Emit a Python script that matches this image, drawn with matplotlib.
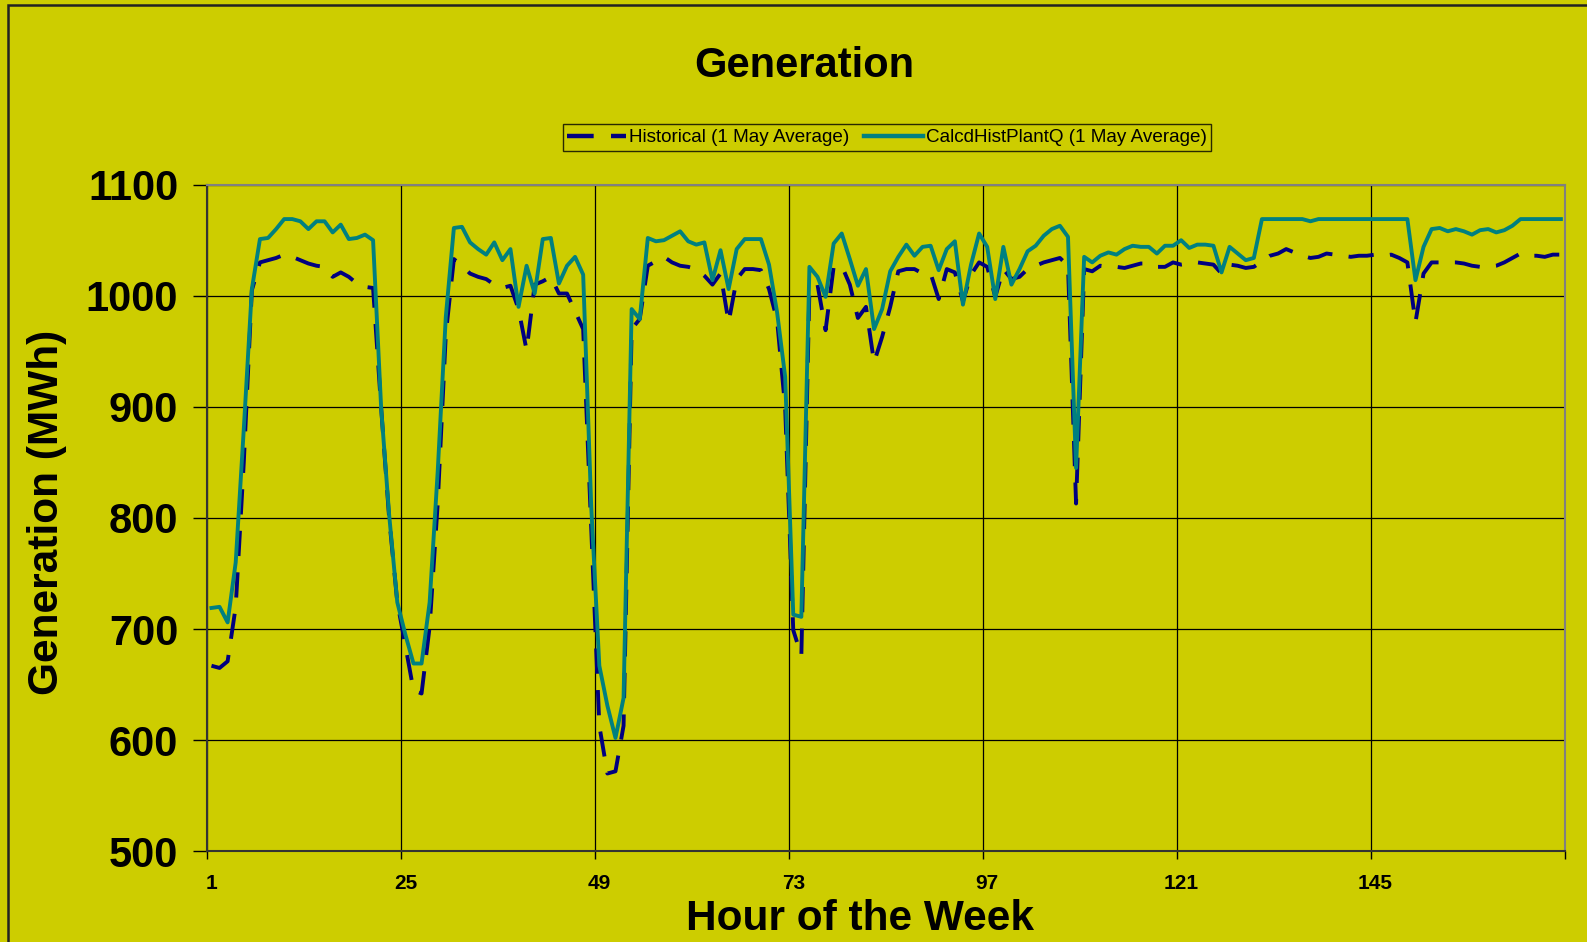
import matplotlib
matplotlib.use("Agg")
import matplotlib.pyplot as plt
from matplotlib.lines import Line2D
from matplotlib.patches import Rectangle

hours = list(range(1, 169))

historical = [
    667, 665, 671, 720, 850, 1005, 1030, 1032, 1034, 1037, 1035, 1032,
    1029, 1027, 1026, 1017, 1021, 1017, 1011, 1008, 1007, 899, 799, 724,
    685, 645, 642, 702, 813, 965, 1033, 1027, 1020, 1017, 1015, 1010,
    1007, 1009, 988, 951, 1010, 1013, 1017, 1002, 1002, 986, 970, 790,
    613, 570, 572, 613, 970, 979, 1027, 1031, 1035, 1030, 1027, 1026,
    1024, 1018, 1010, 1020, 976, 1015, 1024, 1024, 1023, 1006, 978, 899,
    699, 676, 1006, 1010, 969, 1026, 1027, 1010, 980, 990, 940, 963,
    990, 1022, 1024, 1024, 1020, 1020, 997, 1024, 1021, 995, 1019, 1030,
    1026, 999, 1024, 1015, 1017, 1024, 1027, 1030, 1032, 1034, 1027, 813,
    1024, 1022, 1027, 1026, 1026, 1025, 1027, 1029, 1029, 1026, 1026, 1030,
    1028, 1029, 1030, 1029, 1028, 1020, 1028, 1027, 1025, 1026, 1031, 1036,
    1038, 1042, 1039, 1036, 1034, 1035, 1038, 1037, 1036, 1035, 1036, 1036,
    1037, 1036, 1037, 1034, 1030, 976, 1020, 1030, 1030, 1030, 1030, 1029,
    1027, 1026, 1026, 1027, 1030, 1034, 1038, 1036, 1036, 1035, 1037, 1037,
]

calcd = [
    719, 720, 706, 760, 880, 1006, 1051, 1052, 1060, 1069, 1069, 1067,
    1060, 1067, 1067, 1057, 1064, 1051, 1052, 1055, 1050, 899, 802, 724,
    695, 669, 669, 724, 842, 981, 1061, 1062, 1048, 1042, 1037, 1048,
    1032, 1042, 990, 1027, 1002, 1051, 1052, 1011, 1027, 1035, 1019, 810,
    667, 631, 602, 638, 988, 979, 1052, 1049, 1050, 1054, 1058, 1049,
    1046, 1048, 1014, 1041, 1006, 1042, 1051, 1051, 1051, 1028, 985, 927,
    713, 711, 1026, 1017, 999, 1047, 1056, 1033, 1009, 1024, 970, 988,
    1022, 1035, 1046, 1036, 1044, 1045, 1023, 1042, 1049, 992, 1028, 1056,
    1044, 997, 1044, 1010, 1024, 1040, 1045, 1054, 1060, 1063, 1053, 845,
    1035, 1030, 1036, 1039, 1037, 1042, 1045, 1044, 1044, 1038, 1045, 1045,
    1050, 1043, 1046, 1046, 1045, 1021, 1044, 1038, 1032, 1034, 1069, 1069,
    1069, 1069, 1069, 1069, 1067, 1069, 1069, 1069, 1069, 1069, 1069, 1069,
    1069, 1069, 1069, 1069, 1069, 1014, 1044, 1060, 1061, 1058, 1060, 1058,
    1055, 1059, 1060, 1057, 1059, 1063, 1069, 1069, 1069, 1069, 1069, 1069,
]

xtick_labels = ["1", "25", "49", "73", "97", "121", "145"]
yticks = [500, 600, 700, 800, 900, 1000, 1100]

BG = "#CDCD00"
NAVY = "#000080"
TEAL = "#008080"
FONT = ["Liberation Sans", "DejaVu Sans"]
plt.rcParams["font.family"] = FONT

fig = plt.figure(figsize=(15.87, 9.42), dpi=100, facecolor=BG)
ax = fig.add_axes([0.1307, 0.0963, 0.9861 - 0.1307, 0.8040 - 0.0963])
ax.set_facecolor(BG)

ax.plot(hours, historical, color=NAVY, lw=2.8, dashes=(6.5, 4.2),
        label="Historical (1 May Average)", zorder=3)
ax.plot(hours, calcd, color=TEAL, lw=2.8,
        label="CalcdHistPlantQ (1 May Average)", zorder=4)

ax.set_xlim(0.5, 168.5)
ax.set_ylim(500, 1100)

# category boundaries as major ticks/grid; labels at category centres
bounds = [0.5 + 24 * i for i in range(8)]
ax.set_xticks(bounds)
ax.set_xticklabels([""] * len(bounds))
ax.set_xticks([1 + 24 * i for i in range(7)], minor=True)
ax.set_xticklabels(xtick_labels, minor=True, fontsize=15, fontweight="bold")
ax.tick_params(axis="x", which="major", length=6, width=1, direction="out", color="black")
ax.tick_params(axis="x", which="minor", length=0, pad=16)

ax.set_yticks(yticks)
ax.set_yticklabels([str(v) for v in yticks], fontsize=30, fontweight="bold")
ax.tick_params(axis="y", which="major", length=10, width=1, direction="out", pad=11)

ax.grid(True, which="major", color="black", lw=0.9, zorder=1)
ax.set_axisbelow(True)

for s in ["left", "bottom"]:
    ax.spines[s].set_color("#333333")
    ax.spines[s].set_linewidth(1.5)
for s in ["top", "right"]:
    ax.spines[s].set_color("#808080")
    ax.spines[s].set_linewidth(1.5)

ax.set_xlabel("Hour of the Week", fontsize=30.5, fontweight="bold")
ax.xaxis.set_label_coords(0.4807, (851.3 - 919) / (851.3 - 184.6))
ax.xaxis.label.set_va("center")
ax.set_ylabel("Generation (MWh)", fontsize=30.5, fontweight="bold")
ax.yaxis.set_label_coords((47 - 207.5) / (1565 - 207.5), (851.3 - 512.5) / (851.3 - 184.6))
ax.yaxis.label.set_va("center")

fig.text(0.5066, 1 - 66 / 942, "Generation", ha="center", va="center",
         fontsize=30, fontweight="bold")

handles = [
    Line2D([], [], color=NAVY, lw=3.2, dashes=(6.0, 3.9)),
    Line2D([], [], color=TEAL, lw=3.2),
]
leg = fig.legend(handles, ["Historical (1 May Average)", "CalcdHistPlantQ (1 May Average)"],
                 loc="center", bbox_to_anchor=(887 / 1587, 1 - 137.5 / 942),
                 ncol=2, fontsize=13.6, frameon=True, fancybox=False,
                 handlelength=3.1, handletextpad=0.15, columnspacing=0.8,
                 borderpad=0.25, borderaxespad=0)
leg.get_frame().set_facecolor(BG)
leg.get_frame().set_edgecolor("black")
leg.get_frame().set_linewidth(1.0)

# chart-area border (left and top visible)
fig.add_artist(Rectangle((7.5 / 1587, -0.1), 1.2, 1.1 - 4.5 / 942,
                         transform=fig.transFigure, fill=False,
                         edgecolor="#222222", lw=1.8))

fig.savefig("out.png", dpi=100, facecolor=BG)
